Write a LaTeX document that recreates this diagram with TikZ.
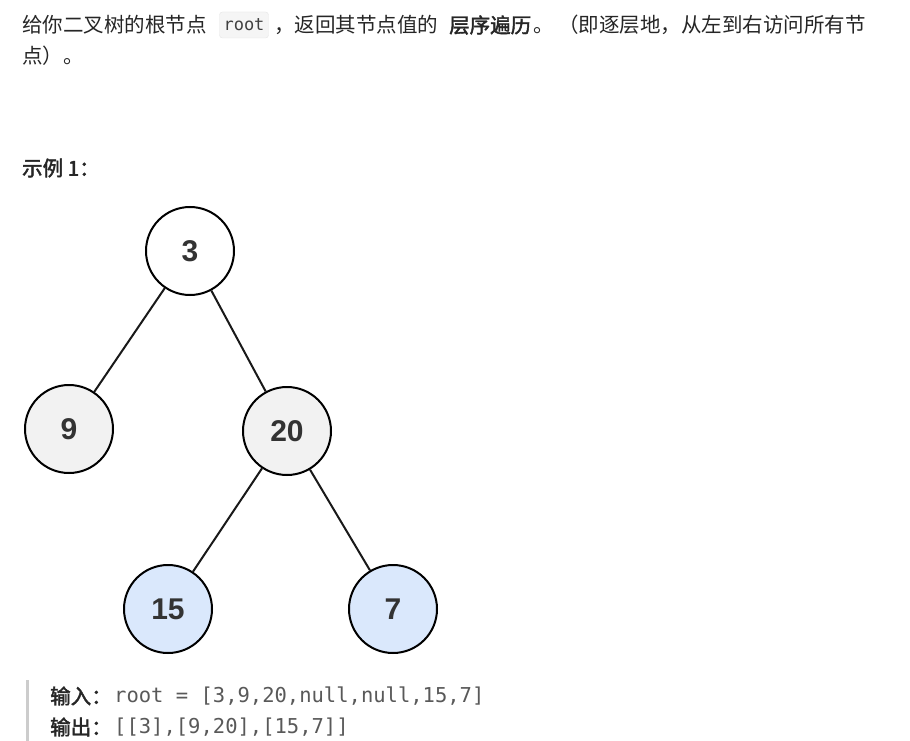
\documentclass[tikz,border=0pt]{standalone}
\usepackage{fontspec}
\setmainfont{Noto Sans CJK SC}
\newfontfamily\cjk{Noto Sans CJK SC}
\newfontfamily\cjkb[FakeBold=2]{Noto Sans CJK SC}
\newfontfamily\monof{DejaVu Sans Mono}
\newfontfamily\nodef{Liberation Sans}
\definecolor{lblue}{HTML}{DAE8FC}
\definecolor{lgray}{HTML}{F2F2F2}
\begin{document}
\begin{tikzpicture}[x=1pt,y=-1pt,
  tnode/.style={circle,draw=black,line width=2pt,minimum size=88pt,inner sep=0pt,font=\nodef\fontsize{30}{34}\selectfont\bfseries,text=black!80},
  edge/.style={draw=black!90,line width=2pt},
  txt/.style={anchor=west,inner sep=0pt,font=\cjk\fontsize{20.5}{24}\selectfont,text=black!85},
  btxt/.style={txt,font=\cjkb\fontsize{20.5}{24}\selectfont},
  code/.style={anchor=west,inner sep=0pt,font=\monof\fontsize{20.5}{24}\selectfont,text=black!65}]
\useasboundingbox[fill=white] (0,0) rectangle (910,741);
\node[txt] (t1) at (22,25) {给你二叉树的根节点};
\node[draw=black!10,fill=black!4,rounded corners=3pt,inner xsep=4pt,minimum height=26pt,font=\monof\fontsize{17}{20}\selectfont,text=black!75] (rt) at (244,25) {root};
\node[txt] (t2) at (274,25) {，返回其节点值的};
\node[btxt] (t3) at (449,25) {层序遍历};
\node[txt] (t4) at (533,25) {。 （即逐层地，从左到右访问所有节};
\node[txt] (t5) at (22,56) {点）。};
\node[btxt] (ex) at (22,168) {示例 1：};
\node[tnode,fill=white] (n3) at (190,251) {3};
\node[tnode,fill=lgray] (n9) at (69,429) {9};
\node[tnode,fill=lgray] (n20) at (287,431) {20};
\node[tnode,fill=lblue] (n15) at (168,609) {15};
\node[tnode,fill=lblue] (n7) at (393,609) {7};
\draw[edge] (n3) -- (n9);
\draw[edge] (n3) -- (n20);
\draw[edge] (n20) -- (n15);
\draw[edge] (n20) -- (n7);
\coordinate (b1) at (27,680); \coordinate (b2) at (27,741);
\draw[black!20,line width=3pt] (b1) -- (b2);
\node[btxt] (in) at (50,696) {输入：};
\node[code] (inv) at (114,696) {root = [3,9,20,null,null,15,7]};
\node[btxt] (out) at (50,727) {输出：};
\node[code] (outv) at (114,727) {[[3],[9,20],[15,7]]};
\end{tikzpicture}
\end{document}
